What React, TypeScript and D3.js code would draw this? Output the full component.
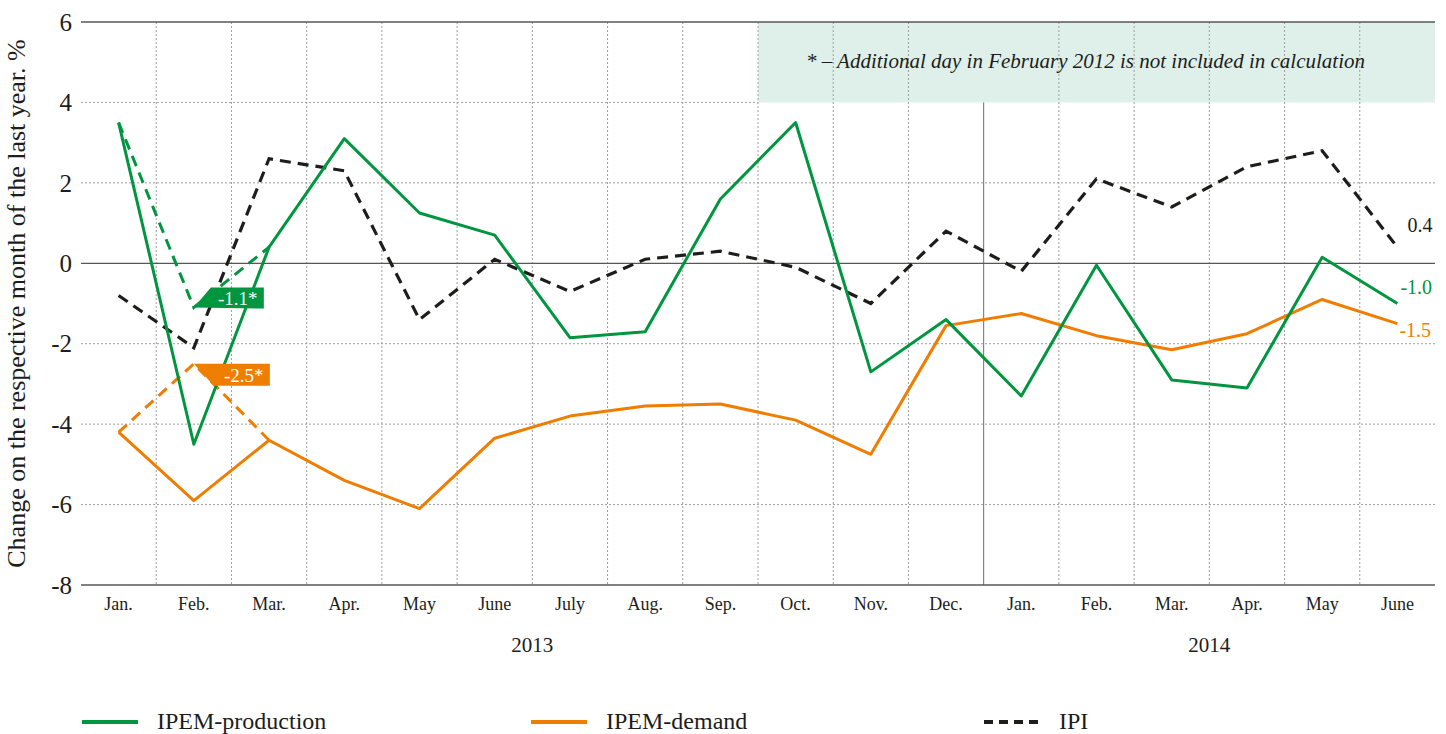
import React from "react";
import * as d3 from "d3";

const months = ["Jan.", "Feb.", "Mar.", "Apr.", "May", "June", "July", "Aug.", "Sep.", "Oct.", "Nov.", "Dec.", "Jan.", "Feb.", "Mar.", "Apr.", "May", "June"];
const years = [
  { label: "2013", from: 0, to: 11 },
  { label: "2014", from: 12, to: 17 },
];
const production = [3.5, -4.5, 0.4, 3.1, 1.25, 0.7, -1.85, -1.7, 1.6, 3.5, -2.7, -1.4, -3.3, -0.05, -2.9, -3.1, 0.15, -1.0];
const demand = [-4.2, -5.9, -4.4, -5.4, -6.1, -4.35, -3.8, -3.55, -3.5, -3.9, -4.75, -1.55, -1.25, -1.8, -2.15, -1.75, -0.9, -1.5];
const ipi = [-0.8, -2.1, 2.6, 2.3, -1.4, 0.1, -0.7, 0.1, 0.3, -0.1, -1.0, 0.8, -0.2, 2.1, 1.4, 2.4, 2.8, 0.4];
const productionAdj = [3.5, -1.1, 0.4];
const demandAdj = [-4.2, -2.5, -4.4];
const yTicks = [6, 4, 2, 0, -2, -4, -6, -8];
const note = "* – Additional day in February 2012 is not included in calculation";

const GREEN = "#009640";
const ORANGE = "#ef7d00";
const BLACK = "#1d1d1b";
const FONT = "'Liberation Serif', 'DejaVu Serif', serif";

export default function App() {
  const W = 1446, H = 734;
  const left = 81, right = 1435, top = 22, bottom = 585;
  const x = d3.scaleBand<number>().domain(d3.range(months.length)).range([left, right]);
  const y = d3.scaleLinear().domain([-8, 6]).range([bottom, top]);
  const cx = (i: number) => (x(i) as number) + x.bandwidth() / 2;
  const line = d3.line<number>().x((_, i) => cx(i)).y((d) => y(d));
  const boundaries = d3.range(1, months.length).map((i) => x(i) as number);
  const yearSplit = x(12) as number;
  const boxX = x(9) as number;

  const fmt = (v: number) => v.toFixed(1);
  const last = months.length - 1;

  const gx = cx(1), gy = y(productionAdj[1]);
  const ox = cx(1), oy = y(demandAdj[1]);

  return (
    <svg width={W} height={H} style={{ position: "absolute", left: 0, top: 0, background: "#fff" }} fontFamily={FONT}>
      <rect x={boxX} y={y(6)} width={right - boxX} height={y(4) - y(6)} fill="#dff0ea" />
      {yTicks.filter((t) => t !== 0 && t !== 6 && t !== -8).map((t) => (
        <line key={t} x1={left} x2={t === 4 ? boxX : right} y1={y(t)} y2={y(t)} stroke="#9d9d9c" strokeWidth={1} strokeDasharray="2,2" />
      ))}
      {boundaries.map((bx, i) => (
        bx === yearSplit ? null : (
          <line key={i} x1={bx} x2={bx} y1={top} y2={bottom} stroke="#9d9d9c" strokeWidth={1} strokeDasharray="2,2" />
        )
      ))}
      <line x1={yearSplit} x2={yearSplit} y1={y(4)} y2={bottom} stroke="#6f6f6e" strokeWidth={1} />
      {[6, 0, -8].map((t) => (
        <line key={t} x1={left} x2={right} y1={y(t)} y2={y(t)} stroke="#575756" strokeWidth={1.3} />
      ))}
      {yTicks.map((t) => (
        <text key={t} x={72} y={y(t)} dy="0.35em" textAnchor="end" fontSize={25} fill={BLACK}>{t}</text>
      ))}
      <text transform={`translate(25,${(top + bottom) / 2}) rotate(-90)`} textAnchor="middle" fontSize={26} fill={BLACK}>
        Change on the respective month of the last year. %
      </text>
      {months.map((m, i) => (
        <text key={i} x={cx(i)} y={610} textAnchor="middle" fontSize={18} fill={BLACK}>{m}</text>
      ))}
      {years.map((yr) => (
        <text key={yr.label} x={(cx(yr.from) + cx(yr.to)) / 2} y={652} textAnchor="middle" fontSize={21} fill={BLACK}>{yr.label}</text>
      ))}
      <text x={(boxX + right) / 2 - 11} y={68} textAnchor="middle" fontSize={21} fontStyle="italic" fill={BLACK}>{note}</text>

      <path d={line(productionAdj) as string} fill="none" stroke={GREEN} strokeWidth={3} strokeDasharray="11,7" />
      <path d={line(demandAdj) as string} fill="none" stroke={ORANGE} strokeWidth={3} strokeDasharray="11,7" />
      <path d={line(ipi) as string} fill="none" stroke={BLACK} strokeWidth={3.2} strokeDasharray="11,7" />
      <path d={line(demand) as string} fill="none" stroke={ORANGE} strokeWidth={3} strokeLinejoin="round" />
      <path d={line(production) as string} fill="none" stroke={GREEN} strokeWidth={3} strokeLinejoin="round" />

      <path d={`M${gx},${gy} L${gx + 17},${gy - 20} L${gx + 70},${gy - 20} L${gx + 70},${gy + 1} Z`} fill={GREEN} />
      <text x={gx + 44} y={gy - 3} textAnchor="middle" fontSize={19} fill="#fff">{fmt(productionAdj[1])}*</text>
      <path d={`M${ox},${oy} L${ox + 76},${oy} L${ox + 76},${oy + 22} L${ox + 20},${oy + 22} Z`} fill={ORANGE} />
      <text x={ox + 50} y={oy + 18} textAnchor="middle" fontSize={19} fill="#fff">{fmt(demandAdj[1])}*</text>

      <text x={cx(last) + 10} y={y(ipi[last]) - 15} fontSize={20} fill={BLACK}>{fmt(ipi[last])}</text>
      <text x={cx(last) + 3} y={y(production[last]) - 10} fontSize={20} fill={GREEN}>{fmt(production[last])}</text>
      <text x={cx(last) + 2} y={y(demand[last]) + 13} fontSize={20} fill={ORANGE}>{fmt(demand[last])}</text>

      {[
        { label: "IPEM-production", color: GREEN, dash: "none", x0: 82 },
        { label: "IPEM-demand", color: ORANGE, dash: "none", x0: 531 },
        { label: "IPI", color: BLACK, dash: "9,6", x0: 984 },
      ].map((l) => (
        <g key={l.label}>
          <line x1={l.x0} x2={l.x0 + 56} y1={722} y2={722} stroke={l.color} strokeWidth={4} strokeDasharray={l.dash} />
          <text x={l.x0 + 75} y={729} fontSize={24} fill={BLACK}>{l.label}</text>
        </g>
      ))}
    </svg>
  );
}
